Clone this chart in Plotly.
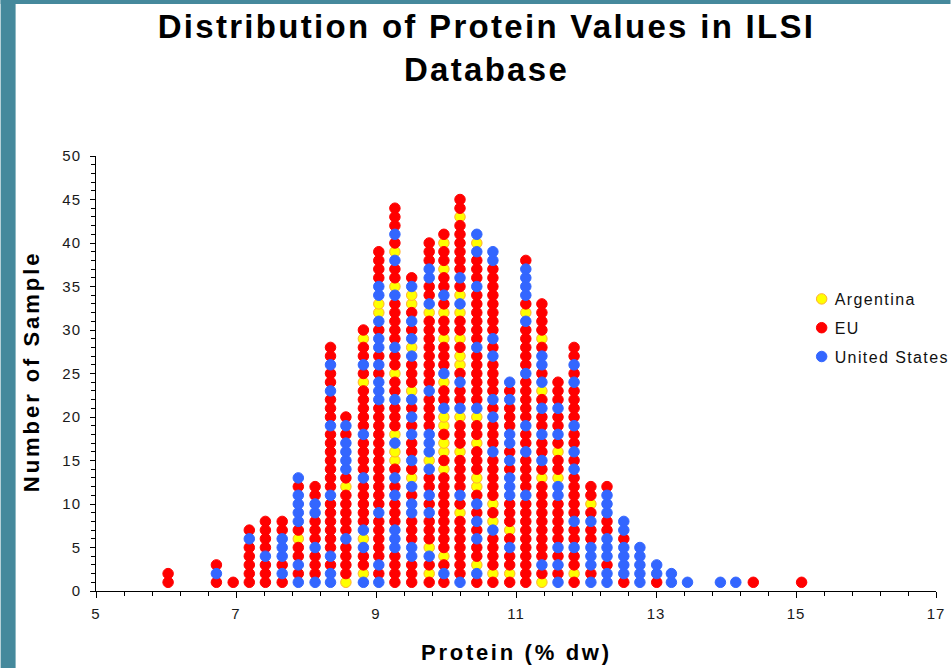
import plotly.graph_objects as go

protein_columns = [6.03, 6.72, 6.96, 7.19, 7.42, 7.66, 7.89, 8.13, 8.35, 8.57, 8.82, 9.04,
                   9.27, 9.51, 9.76, 9.97, 10.2, 10.44, 10.67, 10.91, 11.14, 11.37, 11.6,
                   11.83, 12.07, 12.3, 12.54, 12.77, 13.01, 13.22, 13.45, 13.92, 14.14,
                   14.39, 15.08]

# Samples in each protein column, from the bottom of the stack upward.
# A = Argentina, E = EU, U = United States
column_samples = [
    "EE",
    "EUE",
    "E",
    "EEEEEUE",
    "EEEUEEEE",
    "EUEUUUEE",
    "UEUEEAEUUUUEU",
    "UEEEUEEEUUEE",
    "UUEUEEEEEEUEEEEEEEUEEEUEEUEE",
    "AEEEEUEEEEEAEUUUUEUE",
    "UAEEUAUEEEEEUEEEEUEEEEEAEUEEAE",
    "UEUEEEEEUEEEEEEEEEEEEUUUEUEUUEUAAUUEEEE",
    "EEEEUUUEEEUEUEAAUAEEEUEEAEEUEEEEEUAEEUAEUEEE",
    "EEEUUEEEUUEUAEUEEUEUEUAEEEUAUEUEAAUE",
    "EAEUAEEEUEUEEUAUUUEEEEUEEEEEEEEAUEEUUEEE",
    "EUEAEEEEEEEEEAEAAEAAUEEAUEEEAEEAEUEEAEEAE",
    "UEEEEEEEAEUEEEEAEEEAUEEUEAAEAEEAUAEUEEEEEEAEE",
    "EUAEEUEUEUEAAEEEAEEAUEEEEEEUEEEEEEUEEEUAU",
    "EAEEEEUAEAEEEEEUEEEUEUEEEEUEUEEEEEEEEUU",
    "EAEEUEAEEEUUUEUEUUEEEUEU",
    "EEEEEEEEEEUEEEEUEEUEEEEEUEEEEEUAEUUUUE",
    "AEUEEEEEEEEEAEUEEUEEUEAUEUUEAEEEE",
    "UEUEUEEEEEUUAEEAEUEEUEEE",
    "EAEEUEEUEEEEEUEUEEUEEEEUEUEE",
    "UEUUUEEUEAEE",
    "UUEUUUEEUUUE",
    "EUUUUEUU",
    "UUUUU",
    "EUU",
    "UU",
    "U",
    "U",
    "U",
    "E",
    "E",
]

series_names = ["Argentina", "EU", "United States"]
series_codes = ["A", "E", "U"]
series_colors = ["#ffff00", "#ff0000", "#3366ff"]
series_edges = ["#ffb030", "#ff0000", "#3366ff"]

title_text = "Distribution of Protein Values in ILSI<br>Database"
x_title = "Protein (% dw)"
y_title = "Number of Sample"

W, H = 951, 668
L, R, T, B = 95.5, 14.5, 156, 77
pw, ph = W - L - R, H - T - B
FONT = "Liberation Sans, Arial, sans-serif"
TEAL = "#45899c"


def px(x):
    return (x - L) / pw


def py(y):
    return 1 - (y - T) / ph


fig = go.Figure()
for name, code, color, edge in zip(series_names, series_codes, series_colors, series_edges):
    xs, ys = [], []
    for pos, stack in zip(protein_columns, column_samples):
        for i, s in enumerate(stack):
            if s == code:
                xs.append(pos)
                ys.append(i + 1)
    fig.add_trace(go.Scatter(x=xs, y=ys, mode="markers", name=name, legendgroup=name,
                             cliponaxis=False,
                             marker=dict(color=color, size=10.5, line=dict(width=1, color=edge))))

axis_common = dict(showgrid=False, zeroline=False, showline=True, linecolor="#000000",
                   linewidth=1, ticks="outside", tickcolor="#000000", tickwidth=1,
                   tickfont=dict(family=FONT, size=15, color="#1a1a1a"))

fig.update_xaxes(range=[5, 17], tick0=5, dtick=2, ticklen=6, ticklabelstandoff=3,
                 minor=dict(dtick=0.4, tick0=5, ticks="outside", ticklen=4,
                            tickcolor="#000000", tickwidth=1, showgrid=False),
                 **axis_common)
fig.update_yaxes(range=[0, 50], tick0=0, dtick=5, ticklen=5, ticklabelstandoff=6,
                 minor=dict(dtick=1, tick0=0, ticks="outside", ticklen=4,
                            tickcolor="#000000", tickwidth=1, showgrid=False),
                 **axis_common)

fig.update_layout(
    width=W, height=H, margin=dict(l=L, r=R, t=T, b=B, autoexpand=False),
    paper_bgcolor="#ffffff", plot_bgcolor="#ffffff",
    font=dict(family=FONT, color="#000000"),
    title=dict(text=title_text, x=486.5 / W, xanchor="center", y=1 - 38 / H, yanchor="top",
               font=dict(family=FONT, size=33, color="#000000", weight="bold")),
    legend=dict(x=px(802), xanchor="left", y=py(282), yanchor="top",
                bgcolor="rgba(0,0,0,0)", font=dict(family=FONT, size=16, color="#111111"),
                tracegroupgap=5, itemclick=False, itemdoubleclick=False),
    shapes=[
        dict(type="rect", xref="paper", yref="paper", x0=px(0), x1=px(15), y0=py(H), y1=py(0),
             fillcolor=TEAL, line=dict(width=0), layer="below"),
        dict(type="rect", xref="paper", yref="paper", x0=px(0), x1=px(W), y0=py(4), y1=py(0),
             fillcolor=TEAL, line=dict(width=0), layer="below"),
    ],
    annotations=[
        dict(text=f"<b>{y_title}</b>", xref="paper", yref="paper", x=px(30), y=py(372),
             showarrow=False, textangle=-90, xanchor="center", yanchor="middle",
             font=dict(family=FONT, size=22, color="#000000")),
        dict(text=f"<b>{x_title}</b>", xref="paper", yref="paper", x=px(516), y=py(652),
             showarrow=False, xanchor="center", yanchor="middle",
             font=dict(family=FONT, size=22, color="#000000")),
    ],
)

css = (
    ".gtitle{letter-spacing:2.3px}"
    ".xtick text,.ytick text{letter-spacing:1px}"
    ".legendtext{letter-spacing:1.4px;transform:translateX(-7px)}"
    ".legend .scrollbox{clip-path:none}"
    ".annotation[data-index=\"0\"] text{letter-spacing:2.95px}"
    ".annotation[data-index=\"1\"] text{letter-spacing:2.7px}"
    "html,body{margin:0;padding:0;overflow:hidden}"
    ".plotly-graph-div,.svg-container{width:951px!important;height:668px!important}"
)
post = (
    "var s=document.createElement('style');"
    f"s.textContent='{css}';"
    "document.head.appendChild(s);"
)
fig.write_html("out.html", post_script=post, default_width="951px", default_height="668px",
               config=dict(displayModeBar=False))
